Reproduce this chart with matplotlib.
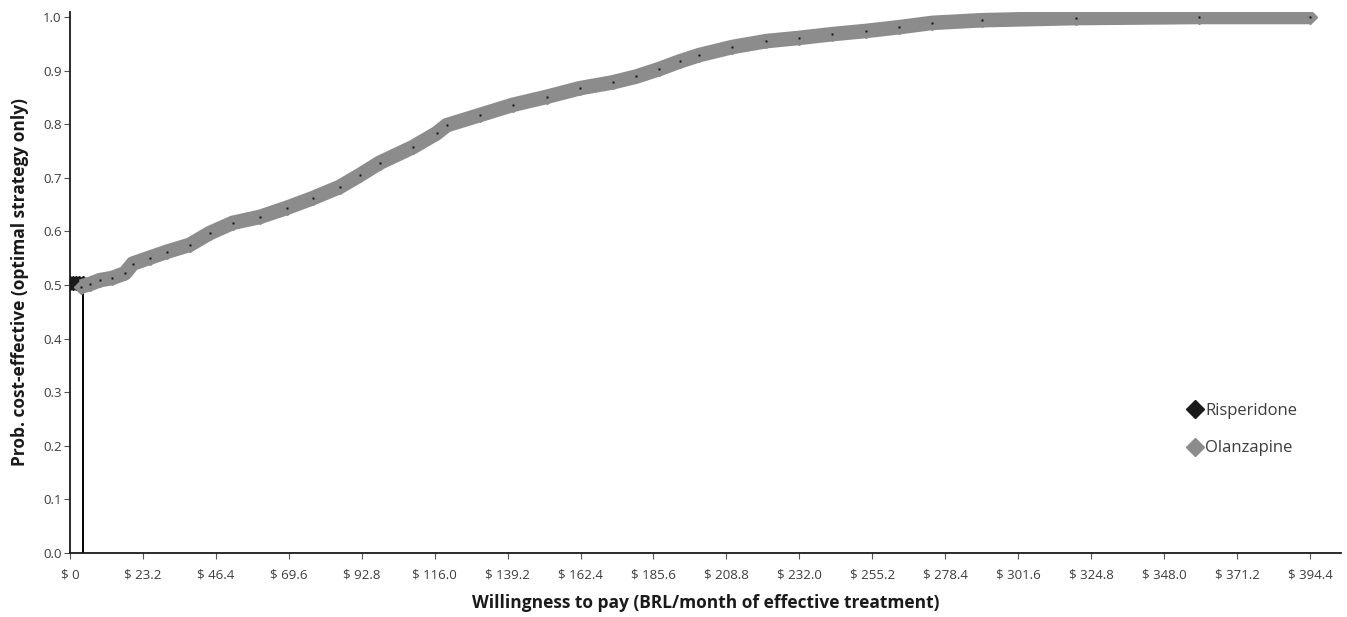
import matplotlib
matplotlib.use("Agg")
import matplotlib.pyplot as plt
from matplotlib.lines import Line2D

# Cost-effectiveness acceptability frontier data (BRL / month of effective treatment)
risp_wtp = [0.0, 1.0, 2.0, 3.0, 4.0]
risp_prob = [0.504, 0.504, 0.504, 0.504, 0.504]
switch_wtp = 4.2

olz_wtp = [3.5, 6.4, 9.5, 13.4, 17.5, 20.0, 25.4, 30.8, 38.1, 44.5, 51.8, 60.4,
           69.0, 77.2, 85.8, 92.2, 98.5, 109.0, 116.6, 119.8, 130.3, 140.8,
           151.6, 162.1, 172.6, 180.2, 187.5, 193.9, 200.2, 210.7, 221.5,
           232.0, 242.5, 253.3, 263.8, 274.3, 290.2, 320.0, 359.1, 394.4]
olz_prob = [0.497, 0.502, 0.509, 0.513, 0.522, 0.540, 0.551, 0.562, 0.575,
            0.597, 0.616, 0.627, 0.644, 0.662, 0.683, 0.705, 0.728, 0.757,
            0.783, 0.798, 0.817, 0.836, 0.851, 0.867, 0.878, 0.889, 0.903,
            0.917, 0.929, 0.944, 0.955, 0.961, 0.968, 0.974, 0.981, 0.989,
            0.994, 0.998, 1.000, 1.000]

x_ticks = [0, 23.2, 46.4, 69.6, 92.8, 116.0, 139.2, 162.4, 185.6, 208.8, 232.0,
           255.2, 278.4, 301.6, 324.8, 348.0, 371.2, 394.4]
x_tick_labels = ["$ 0", "$ 23.2", "$ 46.4", "$ 69.6", "$ 92.8", "$ 116.0",
                 "$ 139.2", "$ 162.4", "$ 185.6", "$ 208.8", "$ 232.0",
                 "$ 255.2", "$ 278.4", "$ 301.6", "$ 324.8", "$ 348.0",
                 "$ 371.2", "$ 394.4"]
y_ticks = [0.0, 0.1, 0.2, 0.3, 0.4, 0.5, 0.6, 0.7, 0.8, 0.9, 1.0]
y_tick_labels = ["0.0", "0.1", "0.2", "0.3", "0.4", "0.5", "0.6", "0.7",
                 "0.8", "0.9", "1.0"]

RISP_COLOR = "#1a1a1a"
OLZ_COLOR = "#8c8c8c"
TEXT_COLOR = "#3c3c3c"

plt.rcParams["font.family"] = ["Open Sans", "DejaVu Sans"]

fig = plt.figure(figsize=(13.47, 6.17), dpi=100)
ax = fig.add_axes([70 / 1347, 64 / 617, 1271 / 1347, 541 / 617])

# Risperidone segment of the frontier
ax.plot(risp_wtp, risp_prob, color=RISP_COLOR, lw=6.5, solid_capstyle="butt",
        marker="D", ms=7, mec=RISP_COLOR, mfc=RISP_COLOR, zorder=3)
# Threshold where the optimal strategy switches
ax.plot([switch_wtp, switch_wtp], [0, risp_prob[-1]], color="black", lw=1.4,
        zorder=2)

# Olanzapine segment of the frontier
ax.plot(olz_wtp, olz_prob, color=OLZ_COLOR, lw=10.5, solid_capstyle="butt",
        solid_joinstyle="round", zorder=4)
ax.plot(olz_wtp, olz_prob, linestyle="none", marker="D", ms=7.4,
        mfc=OLZ_COLOR, mec=OLZ_COLOR, zorder=4)
ax.plot(olz_wtp, olz_prob, linestyle="none", marker="s", ms=1.6,
        mfc="#111111", mec="none", zorder=5)

ax.set_xlim(0, 404.3)
ax.set_ylim(0, 1.0093)
ax.set_xticks(x_ticks)
ax.set_xticklabels(x_tick_labels)
ax.set_yticks(y_ticks)
ax.set_yticklabels(y_tick_labels)

for side in ("top", "right"):
    ax.spines[side].set_visible(False)
for side in ("left", "bottom"):
    ax.spines[side].set_linewidth(1.3)
    ax.spines[side].set_color("#1a1a1a")

ax.tick_params(axis="both", direction="out", length=4, width=0.8,
               colors="#555555", labelcolor=TEXT_COLOR, labelsize=9.5, pad=2)
ax.tick_params(axis="x", pad=7)

ax.set_xlabel("Willingness to pay (BRL/month of effective treatment)",
              fontsize=12.5, fontweight="bold", color="#1a1a1a", labelpad=9)
ax.set_ylabel("Prob. cost-effective (optimal strategy only)",
              fontsize=12.5, fontweight="bold", color="#1a1a1a", labelpad=10)

handles = [
    Line2D([], [], linestyle="none", marker="D", ms=9, color=RISP_COLOR),
    Line2D([], [], linestyle="none", marker="D", ms=9, color=OLZ_COLOR),
]
leg = ax.legend(handles, ["Risperidone", "Olanzapine"], loc="upper left",
                bbox_to_anchor=(0.875, 0.29), frameon=False, fontsize=12,
                handlelength=0.8, handletextpad=0.2, labelspacing=1.3,
                borderaxespad=0)
for t in leg.get_texts():
    t.set_color(TEXT_COLOR)

fig.savefig("out.png", dpi=100)
